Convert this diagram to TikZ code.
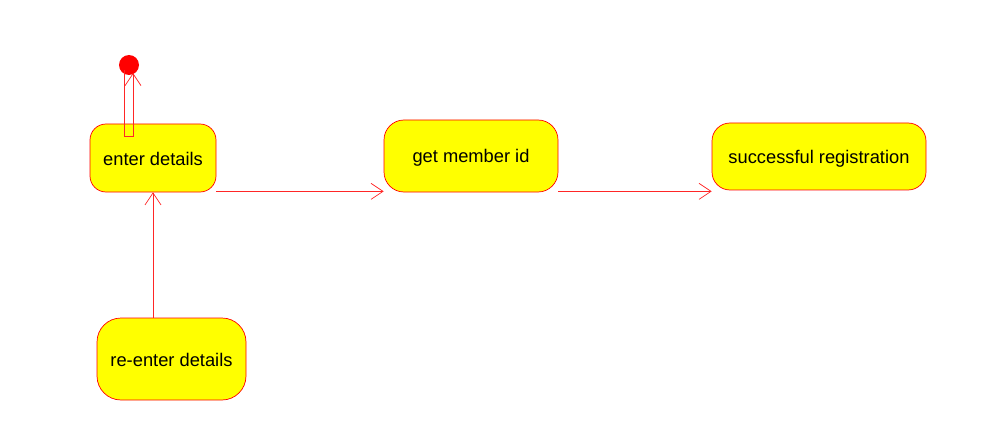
\documentclass[tikz,border=0pt]{standalone}
\usepackage{fontspec}
\setmainfont{Liberation Sans}
\usetikzlibrary{arrows.meta}
\definecolor{stfill}{RGB}{255,255,0}
\definecolor{stline}{RGB}{255,0,0}
\begin{document}
\begin{tikzpicture}[x=1pt,y=-1pt,
  statebox/.style={draw=stline, line width=0.7pt, fill=stfill, inner sep=0pt,
    text height=14pt, text depth=0pt,
    font=\fontsize{18.3}{20}\selectfont},
  trans/.style={draw=stline!85!white, line width=0.7pt, -{Straight Barb[length=12pt,width=16pt,line width=0.7pt]}}]
\useasboundingbox (0,0) rectangle (991,441);
\node[statebox, rounded corners=16pt, minimum width=126pt, minimum height=68pt] (enter) at (153,158) {enter details};
\node[statebox, rounded corners=20pt, minimum width=174pt, minimum height=72pt] (getid) at (471,156) {get member id};
\node[statebox, rounded corners=18pt, minimum width=214pt, minimum height=67pt] (succ) at (819,156.5) {successful registration};
\node[statebox, rounded corners=24pt, minimum width=149pt, minimum height=82pt] (reenter) at (171.5,359) {re-enter details};
\node[circle, fill=stline, inner sep=0pt, minimum size=20pt] (init) at (129,65) {};
\coordinate (la) at (124,136);
\coordinate (ra) at (133,136);
\coordinate (lt) at (124,70);
\coordinate (rt) at (133,73);
\draw[trans] (lt) -- (la) -- (ra) -- (rt);
\coordinate (a1) at ([yshift=1pt]enter.south east);
\draw[trans] (a1) -- (a1 -| getid.west);
\coordinate (a2) at ([yshift=1pt]getid.south east);
\draw[trans] (a2) -- (a2 -| succ.west);
\draw[trans] (enter.south |- reenter.north) -- (enter.south);
\end{tikzpicture}
\end{document}
